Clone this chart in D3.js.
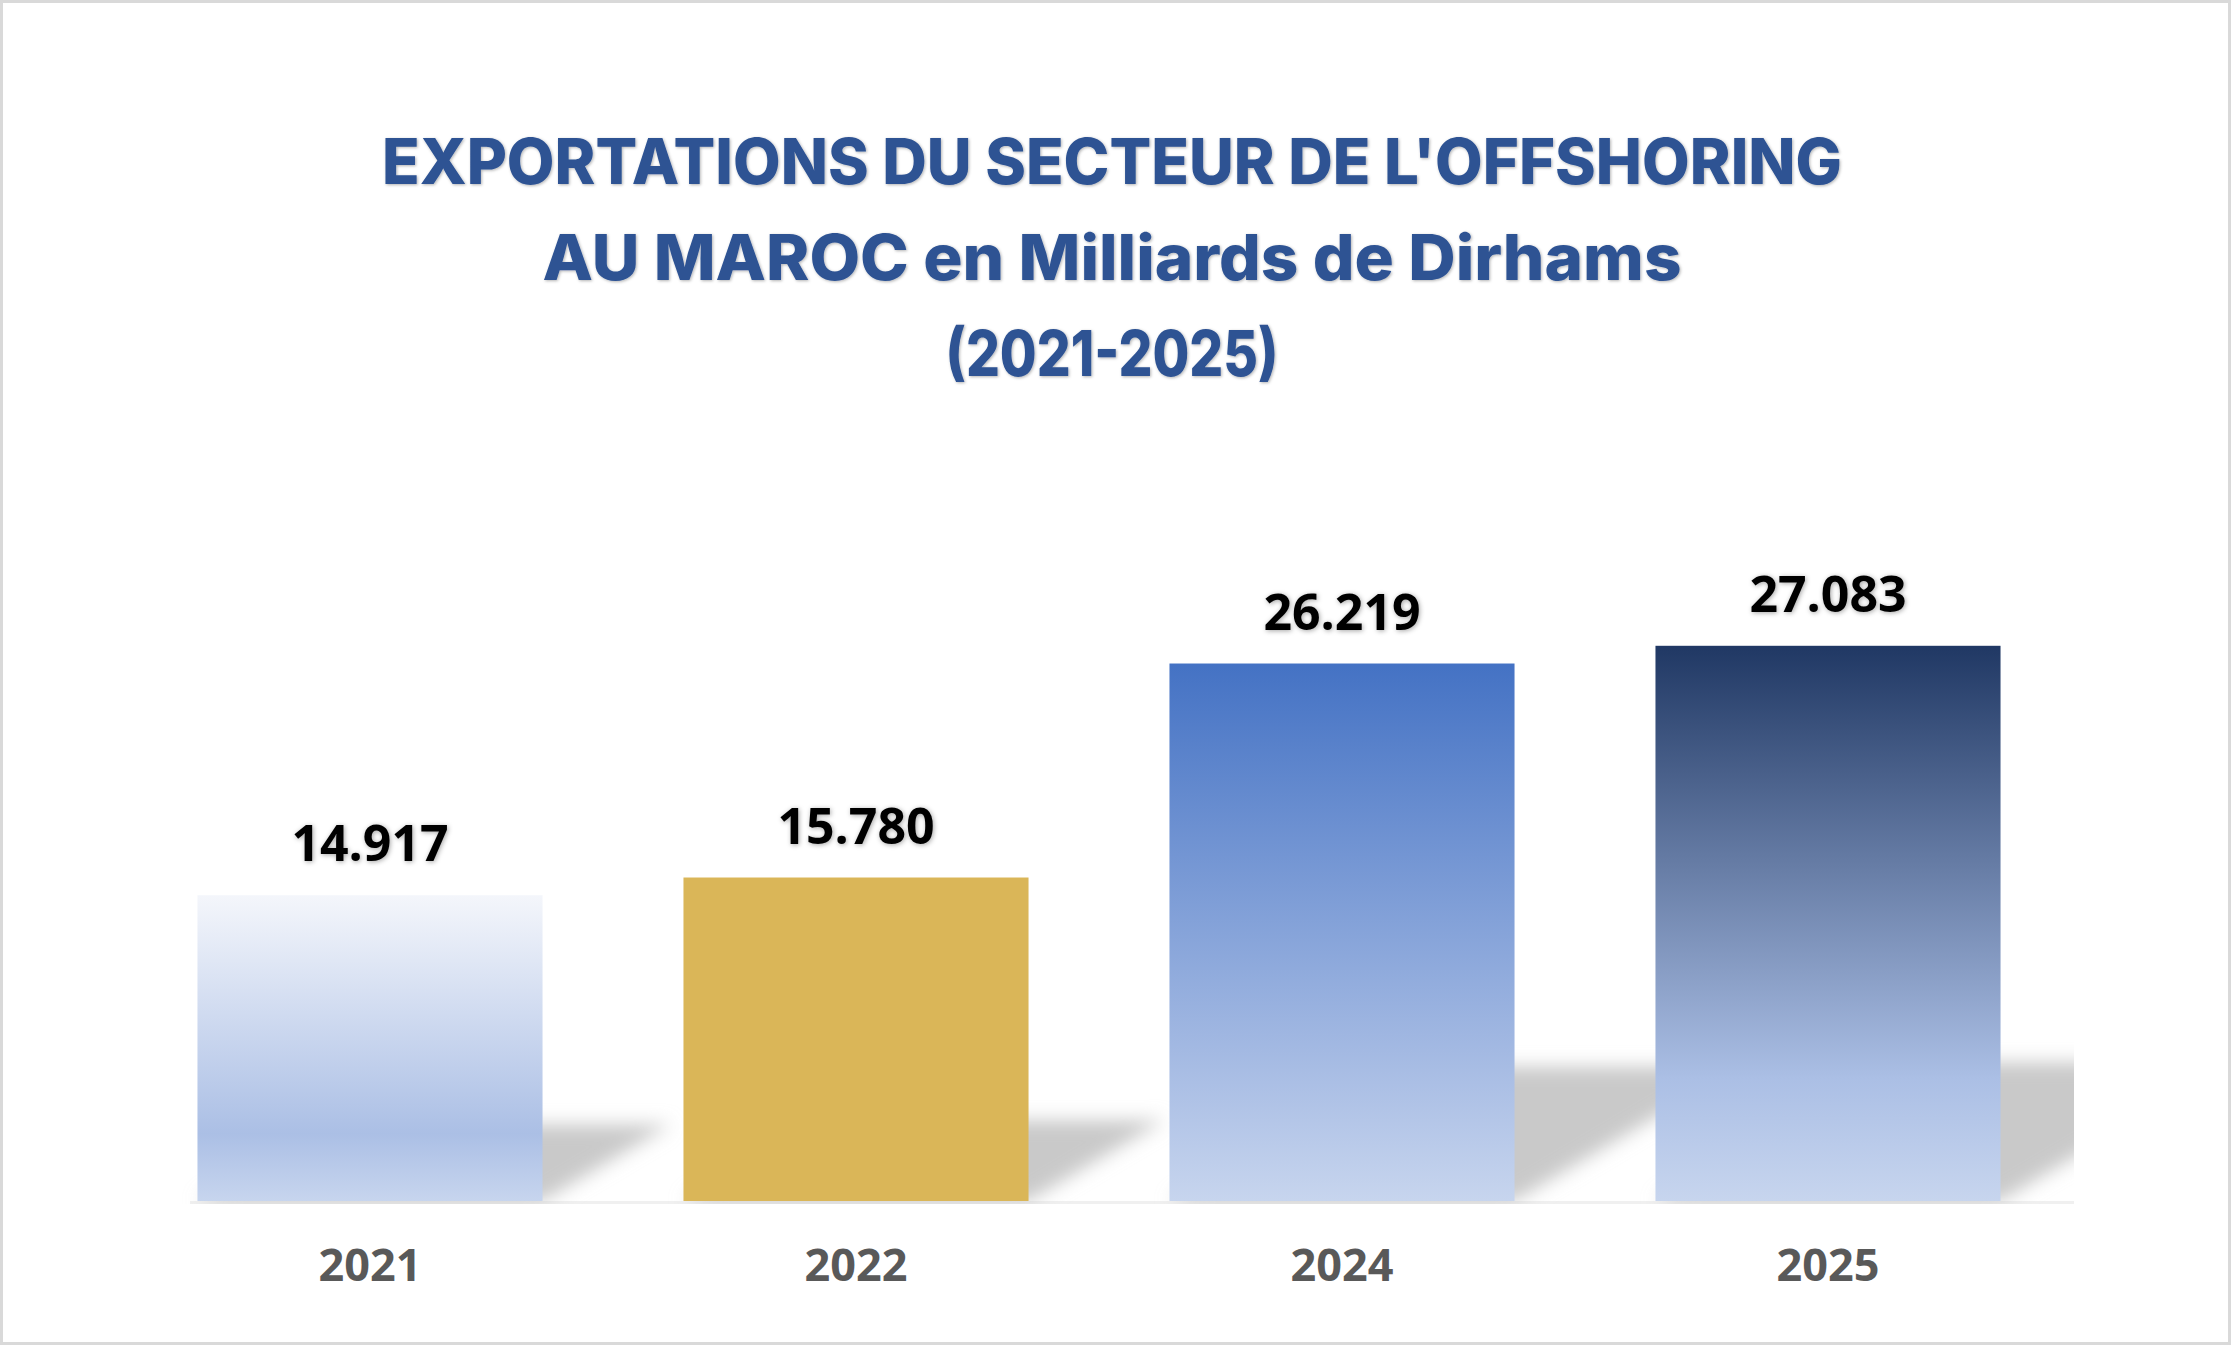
<!DOCTYPE html>
<html>
<head>
<meta charset="utf-8">
<script src="https://cdn.jsdelivr.net/npm/d3@7"></script>
<style>
  html, body { margin: 0; padding: 0; background: #fff; }
  svg { display: block; }
</style>
</head>
<body>
<svg width="2231" height="1345"></svg>
<script>
// data
const years = ["2021", "2022", "2024", "2025"];
const exports = [14.917, 15.780, 26.219, 27.083];
const titleLines = [
    "EXPORTATIONS DU SECTEUR DE L'OFFSHORING",
    "AU MAROC en Milliards de Dirhams",
    "(2021-2025)"
];
// top colour of each bar's gradient (2022 is plain gold)
const topColors = ["#f4f6fb", "#dab658", "#4472c4", "#203864"];

const svg = d3.select("svg"),
    width = +svg.attr("width"),
    height = +svg.attr("height");

const baseY = 1201;

const x = d3.scaleBand()
    .domain(years)
    .range([127, 2071])
    .paddingInner(0.29)
    .paddingOuter(0.145);

const y = d3.scaleLinear()
    .domain([0, 30])
    .range([baseY, baseY - 615]);

const defs = svg.append("defs");

// gradients
years.forEach((yr, i) => {
    const g = defs.append("linearGradient")
        .attr("id", "grad" + i)
        .attr("x1", 0).attr("y1", 0).attr("x2", 0).attr("y2", 1);
    if (i === 1) {
        g.append("stop").attr("offset", 0).attr("stop-color", topColors[i]);
        g.append("stop").attr("offset", 1).attr("stop-color", topColors[i]);
    } else {
        g.append("stop").attr("offset", 0).attr("stop-color", topColors[i]);
        g.append("stop").attr("offset", 0.78).attr("stop-color", "#abbfe5");
        g.append("stop").attr("offset", 1).attr("stop-color", "#c7d5ee");
    }
});

defs.append("filter").attr("id", "shadowBlur")
    .attr("x", "-20%").attr("y", "-40%").attr("width", "140%").attr("height", "180%")
    .append("feGaussianBlur").attr("stdDeviation", 9);

const glow = defs.append("filter").attr("id", "glow")
    .attr("x", "-10%").attr("y", "-20%").attr("width", "120%").attr("height", "140%");
glow.append("feDropShadow")
    .attr("dx", 1).attr("dy", 1).attr("stdDeviation", 2.5)
    .attr("flood-color", "#000").attr("flood-opacity", 0.35);

const titleGlow = defs.append("filter").attr("id", "titleGlow")
    .attr("x", "-5%").attr("y", "-20%").attr("width", "110%").attr("height", "140%");
titleGlow.append("feDropShadow")
    .attr("dx", 1).attr("dy", 1).attr("stdDeviation", 1.5)
    .attr("flood-color", "#000").attr("flood-opacity", 0.3);

defs.append("clipPath").attr("id", "plotClip")
    .append("rect")
    .attr("x", 127).attr("y", 0)
    .attr("width", 2074 - 127).attr("height", baseY + 3);

// border
svg.append("rect")
    .attr("x", 1.5).attr("y", 1.5)
    .attr("width", width - 3).attr("height", height - 3)
    .attr("fill", "#fff")
    .attr("stroke", "#d9d9d9")
    .attr("stroke-width", 3);

// title
svg.append("g")
    .attr("filter", "url(#titleGlow)")
    .selectAll("text")
    .data(titleLines)
    .join("text")
    .attr("x", 1112)
    .attr("y", (d, i) => [184, 280, 376][i])
    .attr("text-anchor", "middle")
    .attr("textLength", (d, i) => [1460, 1139, 333][i])
    .attr("lengthAdjust", "spacingAndGlyphs")
    .attr("font-family", "Inter, 'Open Sans', sans-serif")
    .attr("font-weight", 800)
    .attr("font-size", 63)
    .attr("fill", "#2d5293")
    .text(d => d);

const plot = svg.append("g").attr("clip-path", "url(#plotClip)");

// faint floor line
plot.append("line")
    .attr("x1", 190).attr("x2", 2074)
    .attr("y1", baseY + 1.5).attr("y2", baseY + 1.5)
    .attr("stroke", "#f0f0f0")
    .attr("stroke-width", 3);

// perspective shadows
plot.append("g")
    .attr("filter", "url(#shadowBlur)")
    .selectAll("path")
    .data(exports)
    .join("path")
    .attr("fill", "#c9c9c9")
    .attr("d", (d, i) => {
        const x0 = x(years[i]), x1 = x0 + x.bandwidth();
        const h = baseY - y(d);
        const hs = h * 0.25, dx = h * 0.42;
        return "M" + x0 + "," + baseY + "L" + x1 + "," + baseY +
            "L" + (x1 + dx) + "," + (baseY - hs) + "L" + (x0 + dx) + "," + (baseY - hs) + "Z";
    });

// bars
plot.selectAll(".bar")
    .data(exports)
    .join("rect")
    .attr("class", "bar")
    .attr("x", (d, i) => x(years[i]))
    .attr("y", d => y(d))
    .attr("width", x.bandwidth())
    .attr("height", d => baseY - y(d))
    .attr("fill", (d, i) => "url(#grad" + i + ")");

// value labels
svg.append("g")
    .attr("filter", "url(#glow)")
    .selectAll("text")
    .data(exports)
    .join("text")
    .attr("x", (d, i) => x(years[i]) + x.bandwidth() / 2)
    .attr("y", d => y(d) - 34)
    .attr("text-anchor", "middle")
    .attr("font-family", "'Open Sans', sans-serif")
    .attr("font-weight", 700)
    .attr("font-size", 50)
    .attr("fill", "#000")
    .text(d => d3.format(".3f")(d));

// x axis labels
svg.append("g")
    .selectAll("text")
    .data(years)
    .join("text")
    .attr("x", d => x(d) + x.bandwidth() / 2)
    .attr("y", 1281)
    .attr("text-anchor", "middle")
    .attr("font-family", "'Open Sans', sans-serif")
    .attr("font-weight", 700)
    .attr("font-size", 45)
    .attr("fill", "#595959")
    .text(d => d);
</script>
</body>
</html>
